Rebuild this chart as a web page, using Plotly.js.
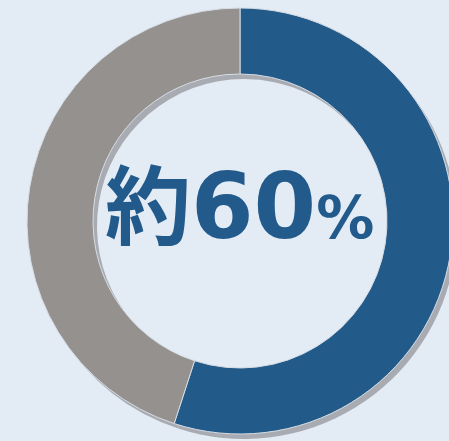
<!DOCTYPE html>
<html><head><meta charset="utf-8">
<script src="https://cdn.plot.ly/plotly-3.0.1.min.js"></script>
<style>html,body{margin:0;padding:0;overflow:hidden;background:#e3ebf5;}</style>
</head><body><div id="chart"></div>
<script>
const labels = ["該当", "非該当"];
const values = [55, 45];
const sliceColors = ["#225a8a", "#94918e"];
const centerText = ["約", "60", "%"];

const W = 470, H = 441;
const cx = 240, cy = 221, R = 213;
const holeFrac = 147 / 213;
function dom(ox, oy) {
  return {
    x: [(cx - R + ox) / W, (cx + R + ox) / W],
    y: [(H - cy - R - oy) / H, (H - cy + R - oy) / H]
  };
}
const shadow = {
  type: "pie", labels: labels, values: values, sort: false, direction: "clockwise", rotation: 0,
  hole: holeFrac, textinfo: "none", hoverinfo: "skip", showlegend: false,
  marker: {colors: ["#a8acb2", "#a8acb2"], line: {width: 0}},
  domain: dom(4, 5)
};
const main = {
  type: "pie", labels: labels, values: values, sort: false, direction: "clockwise", rotation: 0,
  hole: holeFrac, textinfo: "none", showlegend: false,
  marker: {colors: sliceColors, line: {color: "#d6dce3", width: 1}},
  domain: dom(0, 0)
};
const layout = {
  width: W, height: H,
  margin: {l: 0, r: 0, t: 0, b: 0},
  paper_bgcolor: "#e3ebf5", plot_bgcolor: "#e3ebf5",
  annotations: [{
    xref: "paper", yref: "paper",
    x: 239 / W, y: (H - 265) / H, xanchor: "center", yanchor: "bottom",
    showarrow: false,
    text: '<span style="font-family:\'Noto Sans CJK JP\';font-size:86px">' + centerText[0] + '</span>' +
          '<span style="font-size:90px">' + centerText[1] + '</span>' +
          '<span style="font-size:58px">' + centerText[2] + '</span>',
    font: {family: "DejaVu Sans, 'Noto Sans CJK JP'", size: 90, color: "#215a8b", weight: "bold"}
  }]
};
Plotly.newPlot("chart", [shadow, main], layout, {displayModeBar: false, staticPlot: true});
</script></body></html>
